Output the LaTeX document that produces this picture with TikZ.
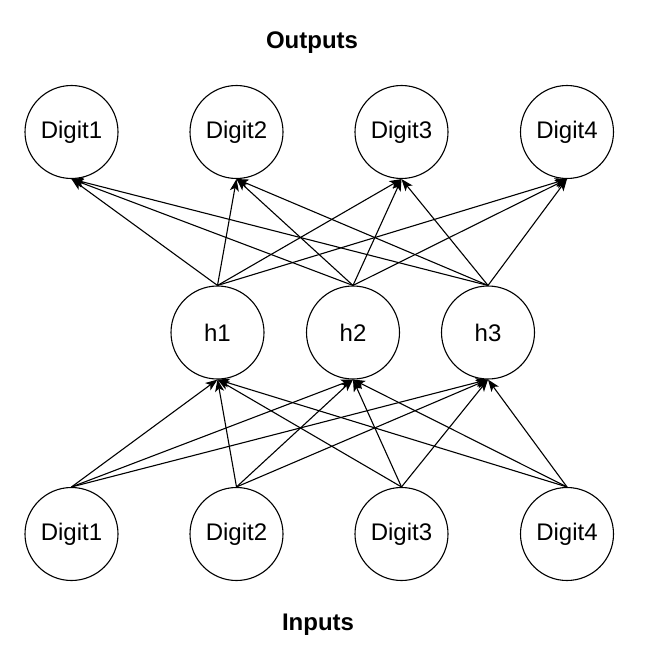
\documentclass[tikz,border=0pt]{standalone}
\usepackage{fontspec}
\setmainfont{Liberation Sans}
\usetikzlibrary{arrows.meta}
\begin{document}
\begin{tikzpicture}[x=1pt,y=-1pt,
  neuron/.style={circle,draw,line width=1.1pt,minimum size=93pt,inner sep=0pt,font=\fontsize{24}{28}\selectfont},
  title/.style={font=\fontsize{24}{28}\selectfont\bfseries},
  conn/.style={line width=1.1pt,-{Stealth[length=12pt,width=9pt,inset=3pt]}}]
\useasboundingbox (0,0) rectangle (656,661);
\node[title] (outs) at (312,43) {Outputs};
\node[title] (ins) at (318,625) {Inputs};
\node[neuron] (o1) at (71.5,132) {Digit1};
\node[neuron] (o2) at (236.5,132) {Digit2};
\node[neuron] (o3) at (401.5,132) {Digit3};
\node[neuron] (o4) at (567,132) {Digit4};
\node[neuron] (h1) at (217.5,332.5) {h1};
\node[neuron] (h2) at (353,332.5) {h2};
\node[neuron] (h3) at (488,332.5) {h3};
\node[neuron] (i1) at (71.5,534) {Digit1};
\node[neuron] (i2) at (236.5,534) {Digit2};
\node[neuron] (i3) at (401.5,534) {Digit3};
\node[neuron] (i4) at (567,534) {Digit4};
\foreach \h in {h1,h2,h3}{
  \foreach \o in {o1,o2,o3,o4}{
    \draw[conn] (\h.north) -- (\o.south);
  }
}
\foreach \i in {i1,i2,i3,i4}{
  \foreach \h in {h1,h2,h3}{
    \draw[conn] (\i.north) -- (\h.south);
  }
}
\end{tikzpicture}
\end{document}
